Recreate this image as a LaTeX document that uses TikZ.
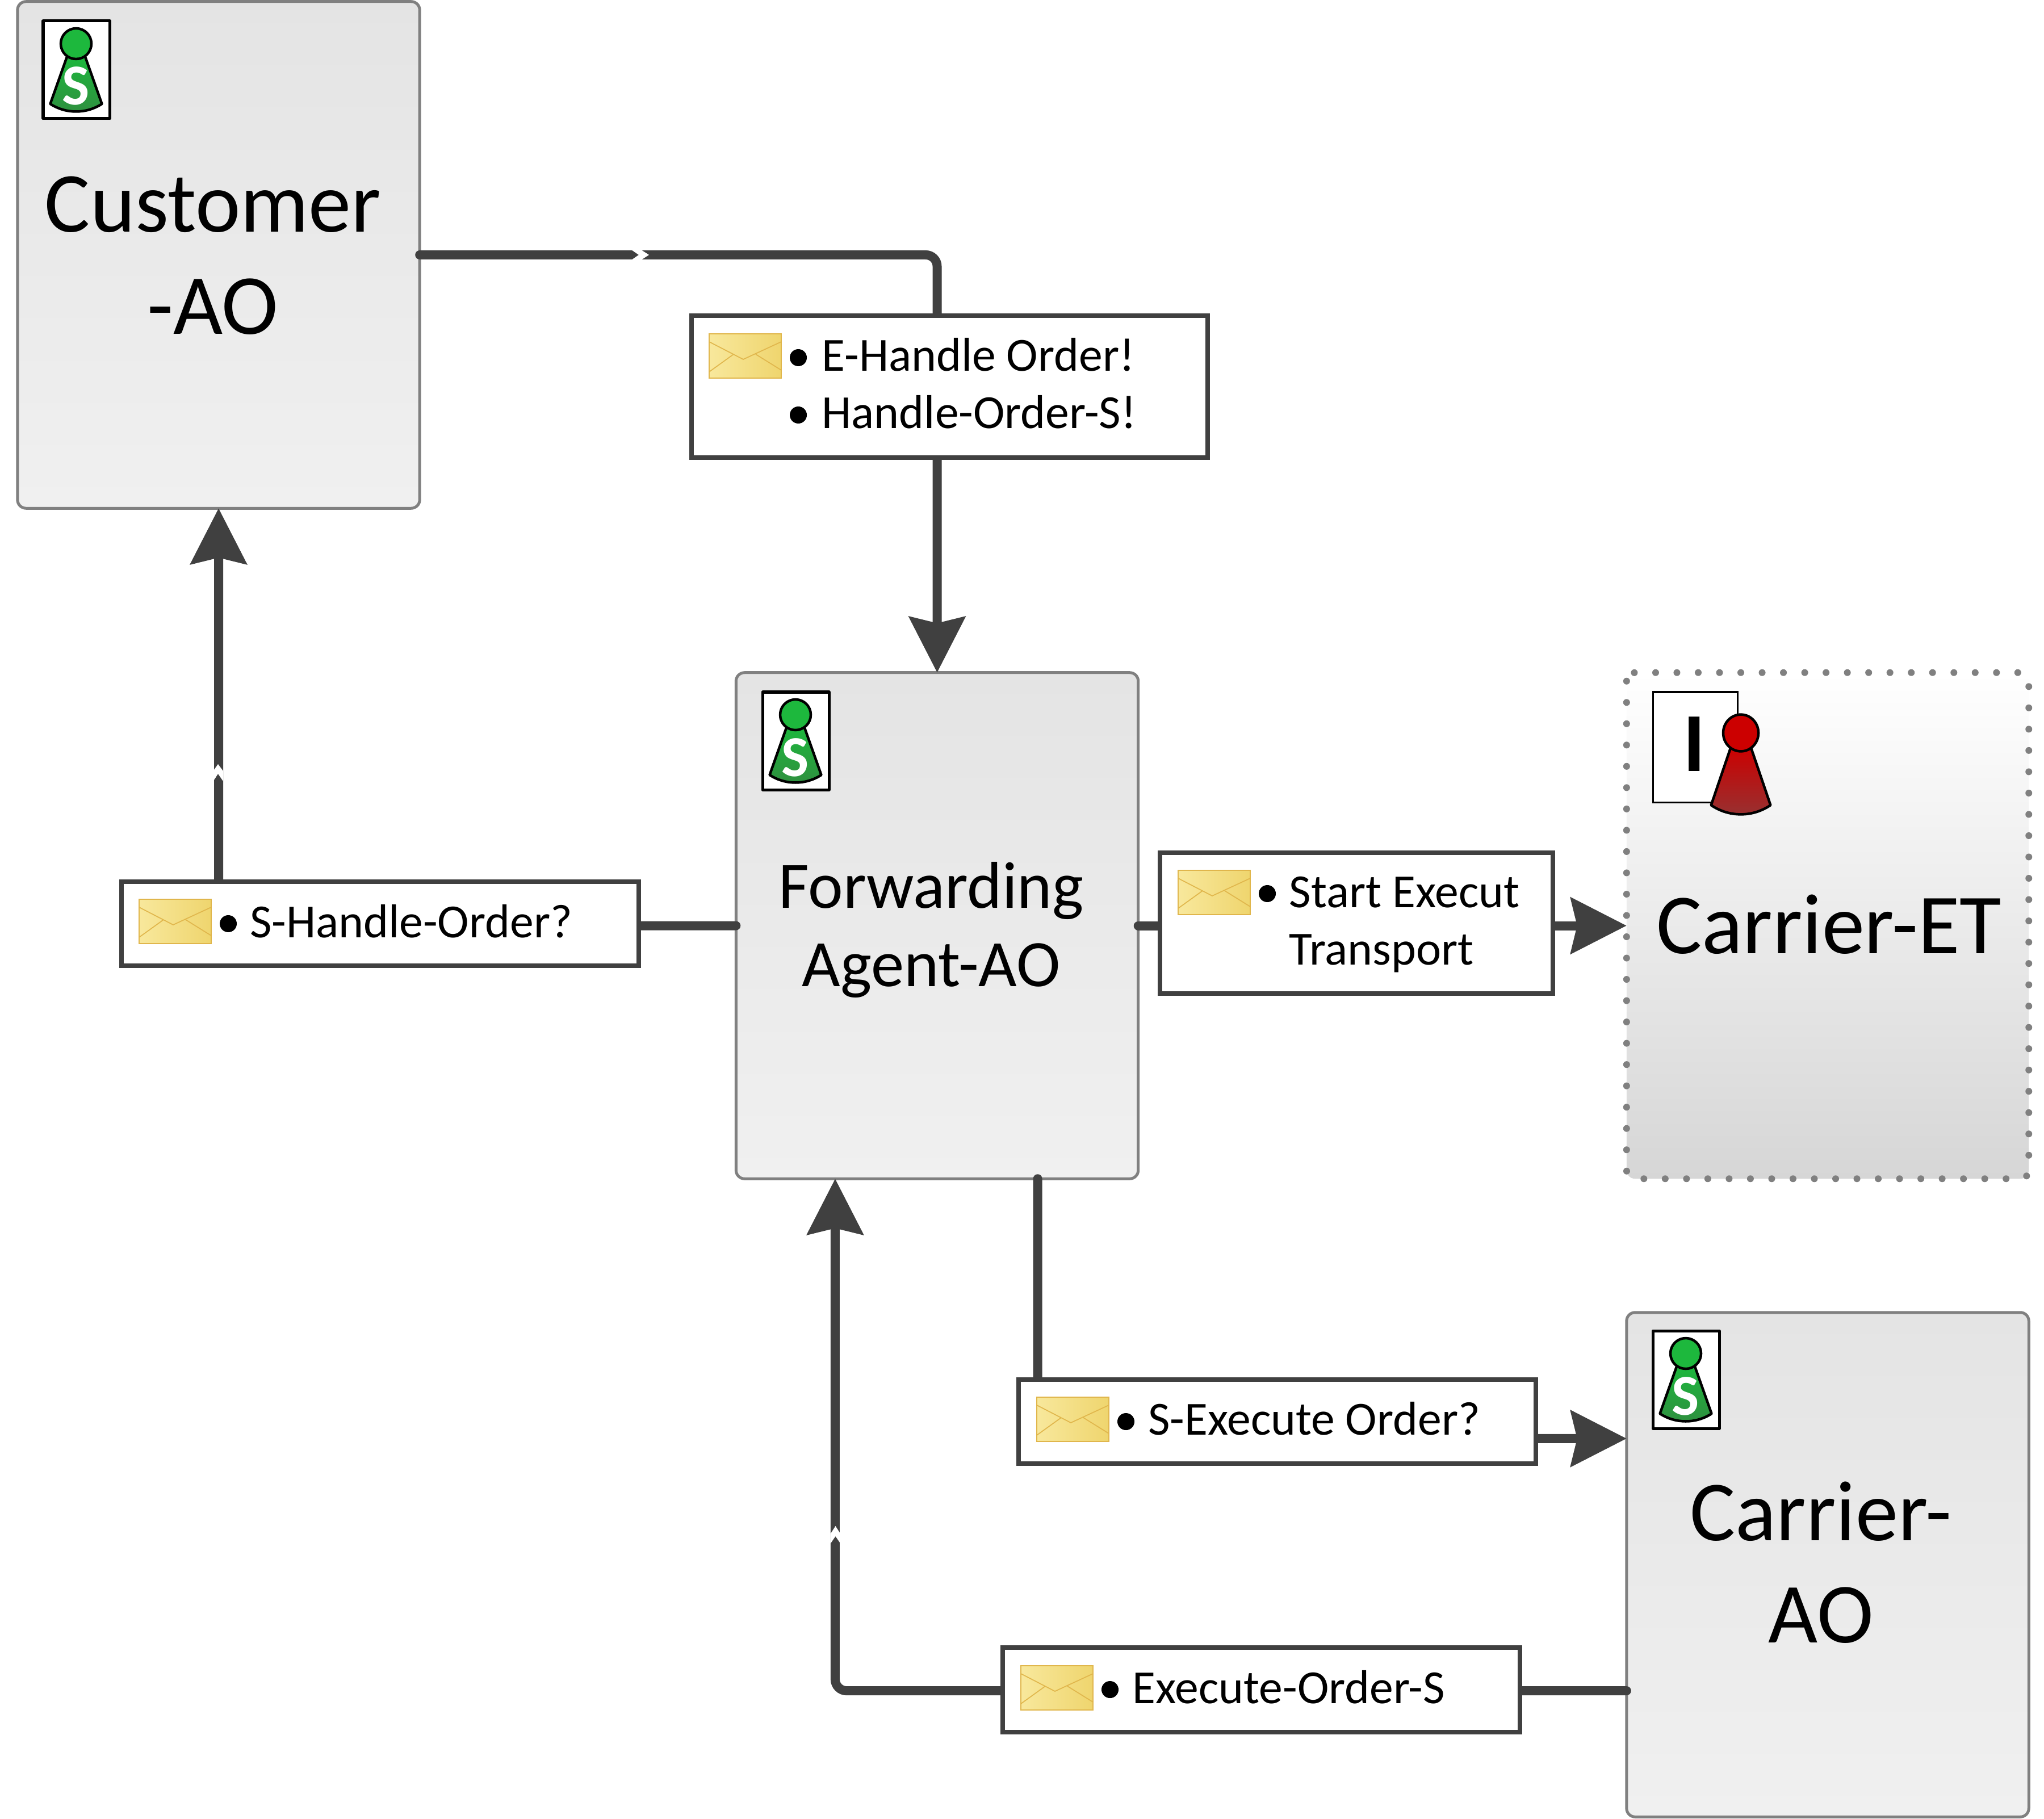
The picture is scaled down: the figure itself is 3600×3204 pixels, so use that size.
\documentclass[tikz,border=0pt]{standalone}
\usepackage{fontspec}
\setmainfont{Carlito}
\usetikzlibrary{arrows.meta,calc}
\definecolor{lineGray}{HTML}{404040}
\definecolor{boxGray}{HTML}{808080}
\definecolor{boxTop}{HTML}{E4E4E4}
\definecolor{boxBottom}{HTML}{F0F0F0}
\definecolor{etBottom}{HTML}{D6D6D6}
\definecolor{pawnGreen}{HTML}{1DB83D}
\definecolor{pawnGreenB}{HTML}{2F8F3F}
\definecolor{pawnRed}{HTML}{CC0000}
\definecolor{pawnRedB}{HTML}{963232}
\definecolor{mailLine}{HTML}{E0B64C}
\definecolor{mailA}{HTML}{F8E89C}
\definecolor{mailB}{HTML}{EFD56E}
\tikzset{
    elementbox/.style={draw=boxGray, line width=0.5mm, rounded corners=1.5mm, top color=boxTop, bottom color=boxBottom, inner sep=0, outer sep=0, minimum width=7.08cm},
    conn/.style={draw=lineGray, line width=1.6mm, line cap=round, rounded corners=2mm},
    connarrow/.style={conn, -{Stealth[length=9.8mm,width=9.8mm,inset=1.1mm]}},
    msgbox/.style={draw=lineGray, line width=0.8mm, fill=white, inner sep=0, outer sep=0, anchor=north west},
    bigtext/.style={inner sep=0, align=center, font=\fontsize{42.8}{51.2}\selectfont},
    midtext/.style={inner sep=0, align=center, font=\fontsize{33.2}{39.2}\selectfont},
    msgtext/.style={inner sep=0, anchor=base west, font=\fontsize{23.8}{30}\selectfont},
    bul/.style={circle, fill=black, inner sep=0, minimum size=3mm},
    jump/.style={fill=white, draw=none},
    pics/pawn/.style 2 args={code={
        \draw[line width=0.45mm, line join=round, top color=#1, bottom color=#2] (-15,20) -- (-45.5,106)
            .. controls (-18,124) and (18,124) .. (45.5,106) -- (15,20) -- cycle;
        \draw[line width=0.45mm, fill=#1] (0,0) circle (27);
    }},
    pics/sicon/.style={code={
        \draw[line width=0.5mm, line join=round, fill=white] (0,0) rectangle (117,172);
        \pic at (58,40) {pawn={pawnGreen}{pawnGreenB}};
        \node[inner sep=0, anchor=base, text=white, font=\fontsize{29}{30}\selectfont\bfseries] (-letter) at (58,148) {S};
    }},
    pics/mail/.style={code={
        \draw[draw=mailLine, line width=0.27mm, left color=mailA, right color=mailB] (0,0) rectangle (127,78);
        \draw[draw=mailLine, line width=0.17mm] (0,14) -- (60,45) -- (127,14) (43,36) -- (0,67) (82,36) -- (127,64);
    }},
}
\begin{document}
\begin{tikzpicture}[x=0.01cm,y=-0.01cm]
    \useasboundingbox (0,0) rectangle (3600,3204);
    %Elements
    \node[elementbox, minimum height=8.92cm] (customer) at (385,449) {};
    \node[elementbox, minimum height=8.91cm] (forwarding) at (1650.5,1630.5) {};
    \node[elementbox, top color=white, bottom color=etBottom, draw=none, minimum height=8.91cm] (carrierET) at (3219,1630.5) {};
    \draw[draw=boxGray, line width=1.2mm, line cap=round, rounded corners=1.5mm, dash pattern=on 0pt off 3.75mm] (carrierET.north west) rectangle (carrierET.south east);
    \node[elementbox, minimum height=8.88cm] (carrierAO) at (3219,2756) {};

    \coordinate (fwdRight) at ($(forwarding.south)!.5!(forwarding.south east)$);
    \coordinate (fwdLeft) at ($(forwarding.south)!.507!(forwarding.south west)$);
    \coordinate (aoUpper) at ($(carrierAO.west)!.5!(carrierAO.north west)$);
    \coordinate (aoLower) at ($(carrierAO.west)!.5!(carrierAO.south west)$);

    %Connectors
    \draw[connarrow] (customer.east) -| (forwarding.north);
    \draw[connarrow] (forwarding.west) -| (customer.south);
    \draw[connarrow] (forwarding.east) -- (carrierET.west);
    \draw[connarrow] (fwdRight) |- (aoUpper);
    \draw[connarrow] (aoLower) -| (fwdLeft);

    %Jumps
    \fill[jump] (1112,440) -- (1129,440) -- (1143,449) -- (1129,458) -- (1112,458) -- (1125,449) -- cycle;
    \fill[jump] (375.5,1376) -- (375.5,1358) -- (384,1346) -- (393,1358) -- (393,1376) -- (384,1363) -- cycle;
    \fill[jump] (1462.5,2719) -- (1462.5,2702) -- (1471.5,2688) -- (1480.5,2702) -- (1480.5,2719) -- (1471.5,2706) -- cycle;

    %Messages
    \node[msgbox, minimum width=9.08cm, minimum height=2.5cm] (msgOrder) at (1218,556) {};
    \pic at (1249,588) {mail};
    \node[bul] (bulA) at (1406,630) {};
    \node[msgtext] (txtA) at (1447,654) {E-Handle Order!};
    \node[bul] (bulB) at (1406,731) {};
    \node[msgtext] (txtB) at (1447,755) {Handle-Order-S!};

    \node[msgbox, minimum width=9.1cm, minimum height=1.48cm] (msgHandle) at (214,1553) {};
    \pic at (245,1584) {mail};
    \node[bul] (bulC) at (402,1627) {};
    \node[msgtext] (txtC) at (440,1651) {S-Handle-Order?};

    \node[msgbox, minimum width=6.92cm, minimum height=2.48cm] (msgStart) at (2043,1502) {};
    \pic at (2075,1533) {mail};
    \node[bul] (bulD) at (2232,1574) {};
    \node[msgtext] (txtD) at (2270,1598) {Start Execut};
    \node[msgtext] (txtE) at (2270,1699) {Transport};

    \node[msgbox, minimum width=9.1cm, minimum height=1.48cm] (msgExecute) at (1794,2430) {};
    \pic at (1826,2461) {mail};
    \node[bul] (bulF) at (1983,2504) {};
    \node[msgtext] (txtF) at (2022,2527) {S-Execute Order?};

    \node[msgbox, minimum width=9.1cm, minimum height=1.49cm] (msgDone) at (1766,2902) {};
    \pic at (1798,2934) {mail};
    \node[bul] (bulG) at (1955,2976) {};
    \node[msgtext] (txtG) at (1994,3000) {Execute-Order-S};

    %Labels
    \node[bigtext] (lblCustomer) at (375,450) {Customer\\-AO};
    \node[midtext] (lblForwarding) at (1640,1638) {Forwarding\\Agent-AO};
    \node[bigtext, anchor=base] (lblET) at (3221,1679) {Carrier-ET};
    \node[bigtext] (lblAO) at (3207,2752) {Carrier-\\AO};

    %Icons
    \pic (iconCustomer) at (76,37) {sicon};
    \pic (iconForwarding) at (1343,1219) {sicon};
    \pic (iconAO) at (2911,2344) {sicon};
    \draw[line width=0.3mm, fill=white] (2911,1219) rectangle (3060,1413);
    \node[inner sep=0, anchor=base, font=\fontsize{42}{50}\selectfont\bfseries] (letterI) at (2984,1358) {I};
    \pic[xscale=1.15, yscale=1.2] at (3066,1291) {pawn={pawnRed}{pawnRedB}};
\end{tikzpicture}
\end{document}
